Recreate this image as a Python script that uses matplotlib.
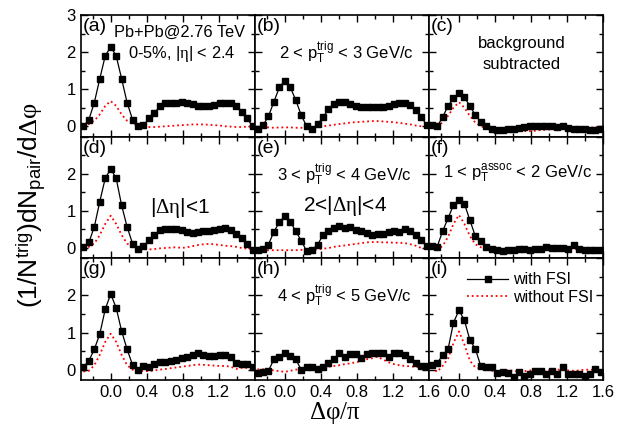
import matplotlib
matplotlib.use('Agg')
import matplotlib.pyplot as plt
import numpy as np

#Data: bin centres in units of pi
dphi = np.arange(-5, 27) * 2.0 / 33.0

#with FSI (black squares) / without FSI (red dotted), panels a..i
fsi_a = [0.0, 0.18, 0.64, 1.28, 1.9, 2.14, 1.9, 1.28, 0.64, 0.18, 0.0, 0.03, 0.21, 0.35, 0.55, 0.62,
         0.64, 0.64, 0.65, 0.62, 0.59, 0.56, 0.55, 0.55, 0.58, 0.62, 0.64, 0.62, 0.55, 0.39, 0.21, 0.0]
nofsi_a = [0.02, 0.06, 0.15, 0.32, 0.55, 0.68, 0.55, 0.32, 0.15, 0.07, 0.03, 0.0, -0.02, -0.02, -0.01, 0.0,
           0.01, 0.02, 0.03, 0.04, 0.05, 0.05, 0.05, 0.04, 0.03, 0.02, 0.0, -0.01, -0.02, -0.02, -0.01, -0.01]

fsi_b = [-0.06, 0.03, 0.27, 0.66, 1.05, 1.23, 1.05, 0.71, 0.30, 0.0, -0.06, 0.05, 0.25, 0.46, 0.6, 0.65,
         0.65, 0.6, 0.55, 0.53, 0.51, 0.51, 0.53, 0.53, 0.55, 0.59, 0.62, 0.62, 0.57, 0.45, 0.25, 0.03]
nofsi_b = [-0.03, -0.03, -0.03, -0.04, -0.03, -0.03, -0.03, -0.04, -0.04, -0.03, -0.03, -0.02, 0.0, 0.02, 0.04, 0.06,
           0.08, 0.1, 0.11, 0.12, 0.13, 0.14, 0.14, 0.13, 0.12, 0.11, 0.09, 0.07, 0.05, 0.02, 0.0, -0.02]

fsi_c = [0.03, 0.0, 0.24, 0.55, 0.75, 0.89, 0.78, 0.55, 0.3, 0.12, 0.0, -0.06, -0.09, -0.09, -0.07, -0.06,
         -0.05, -0.02, 0.0, 0.02, 0.02, 0.0, 0.0, -0.02, 0.0, -0.04, -0.06, -0.06, -0.06, -0.09, -0.09, -0.06]
nofsi_c = [-0.02, 0.02, 0.1, 0.28, 0.5, 0.65, 0.5, 0.28, 0.1, 0.0, -0.04, -0.05, -0.05, -0.06, -0.08, -0.1,
           -0.12, -0.13, -0.13, -0.12, -0.1, -0.09, -0.08, -0.06, -0.05, -0.05, -0.05, -0.06, -0.05, -0.04, -0.03, -0.03]

fsi_d = [0.03, 0.15, 0.57, 1.25, 1.88, 2.13, 1.88, 1.15, 0.57, 0.12, -0.02, 0.05, 0.21, 0.35, 0.48, 0.51,
         0.51, 0.5, 0.48, 0.44, 0.41, 0.42, 0.45, 0.46, 0.48, 0.5, 0.55, 0.48, 0.39, 0.28, 0.12, -0.05]
nofsi_d = [0.0, 0.03, 0.12, 0.35, 0.65, 0.87, 0.65, 0.35, 0.12, 0.03, -0.02, -0.03, -0.04, -0.03, -0.01, 0.0,
           0.01, 0.02, 0.0, 0.02, 0.05, 0.08, 0.1, 0.11, 0.1, 0.08, 0.06, 0.05, 0.03, 0.0, -0.02, -0.03]

fsi_e = [-0.06, -0.04, 0.09, 0.44, 0.69, 0.87, 0.71, 0.45, 0.2, -0.09, -0.06, 0.09, 0.35, 0.45, 0.55, 0.59,
         0.55, 0.57, 0.48, 0.45, 0.41, 0.35, 0.39, 0.39, 0.42, 0.45, 0.44, 0.5, 0.45, 0.36, 0.21, 0.05]
nofsi_e = [-0.06, -0.06, -0.06, -0.06, -0.06, -0.06, -0.06, -0.06, -0.05, -0.05, -0.05, -0.04, -0.02, 0.0, 0.03, 0.05,
           0.07, 0.09, 0.11, 0.13, 0.15, 0.16, 0.16, 0.15, 0.15, 0.14, 0.14, 0.13, 0.1, 0.06, 0.0, -0.03]

fsi_f = [0.05, 0.03, 0.45, 0.8, 1.16, 1.3, 1.19, 0.75, 0.32, 0.2, 0.03, -0.02, -0.06, -0.08, -0.06, -0.05,
         -0.02, -0.04, -0.05, -0.02, -0.03, 0.03, 0.01, 0.01, 0.01, -0.02, 0.07, -0.02, -0.06, -0.06, -0.05, -0.05]
nofsi_f = [-0.02, -0.04, 0.05, 0.3, 0.65, 0.89, 0.65, 0.32, 0.1, 0.02, -0.02, -0.01, 0.0, -0.02, -0.04, -0.06,
           -0.05, -0.03, -0.02, 0.0, -0.02, -0.03, -0.02, -0.02, -0.03, -0.02, -0.03, -0.02, -0.01, -0.03, -0.04, -0.04]

fsi_g = [0.07, 0.24, 0.55, 0.96, 1.63, 2.04, 1.67, 1.04, 0.55, 0.13, -0.02, 0.11, 0.07, 0.15, 0.21, 0.22,
         0.24, 0.25, 0.31, 0.35, 0.39, 0.44, 0.39, 0.37, 0.37, 0.39, 0.4, 0.35, 0.19, 0.16, 0.14, 0.08]
nofsi_g = [-0.05, -0.03, 0.12, 0.4, 0.75, 0.97, 0.75, 0.4, 0.12, 0.0, -0.03, -0.04, -0.04, -0.02, 0.0, 0.02,
           0.04, 0.06, 0.08, 0.1, 0.12, 0.14, 0.13, 0.12, 0.11, 0.1, 0.1, 0.08, 0.02, 0.05, 0.05, 0.03]

fsi_h = [-0.08, -0.06, -0.03, 0.28, 0.35, 0.44, 0.37, 0.28, 0.0, 0.06, 0.06, 0.01, 0.08, 0.19, 0.28, 0.44,
         0.35, 0.41, 0.43, 0.32, 0.41, 0.44, 0.46, 0.44, 0.35, 0.44, 0.46, 0.39, 0.28, 0.17, 0.1, 0.1]
nofsi_h = [0.01, 0.01, 0.0, -0.02, -0.04, -0.06, -0.03, 0.0, 0.02, 0.02, 0.03, 0.05, 0.06, 0.08, 0.1, 0.12,
           0.15, 0.17, 0.2, 0.23, 0.28, 0.31, 0.35, 0.27, 0.2, 0.15, 0.12, 0.1, 0.09, 0.07, 0.06, 0.04]

fsi_i = [0.12, 0.17, 0.39, 0.55, 1.27, 1.6, 1.33, 0.8, 0.56, 0.1, 0.08, 0.06, -0.09, -0.06, -0.09, -0.21,
         -0.06, -0.18, -0.12, -0.03, -0.03, -0.12, -0.03, -0.12, 0.06, -0.12, -0.12, -0.12, -0.16, -0.12, 0.01, -0.06]
nofsi_i = [0.06, -0.06, 0.1, 0.3, 0.72, 1.03, 0.68, 0.24, 0.06, 0.03, 0.0, -0.03, -0.05, -0.04, -0.01, -0.03,
           -0.06, -0.04, -0.02, -0.05, -0.06, -0.02, -0.02, 0.0, 0.0, -0.02, -0.03, -0.02, 0.0, 0.0, -0.01, -0.03]

fsi_all = [fsi_a, fsi_b, fsi_c, fsi_d, fsi_e, fsi_f, fsi_g, fsi_h, fsi_i]
nofsi_all = [nofsi_a, nofsi_b, nofsi_c, nofsi_d, nofsi_e, nofsi_f, nofsi_g, nofsi_h, nofsi_i]
panel_tags = ['(a)', '(b)', '(c)', '(d)', '(e)', '(f)', '(g)', '(h)', '(i)']
xtick_vals = [0.0, 0.4, 0.8, 1.2, 1.6]
xtick_text = ['0.0', '0.4', '0.8', '1.2', '1.6']

#############################################################################
#PLOT
#############################################################################
plt.rcParams['font.family'] = ['Liberation Sans', 'DejaVu Sans']
plt.rcParams['mathtext.fontset'] = 'custom'
plt.rcParams['mathtext.rm'] = 'Liberation Serif'
plt.rcParams['mathtext.it'] = 'Liberation Serif'
plt.rcParams['mathtext.sf'] = 'Liberation Sans'

fig, axes = plt.subplots(3, 3, figsize=(6.23, 4.28), dpi=100)
fig.subplots_adjust(left=0.1295, right=0.968, top=0.965, bottom=0.112, wspace=0, hspace=0)

for n, ax in enumerate(axes.flat):
    row, col = n // 3, n % 3
    ax.plot(dphi, nofsi_all[n], color='red', ls=':', lw=1.3)
    ax.plot(dphi, fsi_all[n], color='black', lw=0.9, marker='s', ms=4.3)
    ax.set_xlim(-1.0/3.0, 1.6)
    ax.set_ylim(-0.28, 3.0)
    ax.set_xticks(xtick_vals)
    ax.set_xticks(np.arange(-0.2, 1.61, 0.2), minor=True)
    ax.set_yticks([0, 1, 2, 3])
    ax.set_yticks([0.5, 1.5, 2.5], minor=True)
    ax.tick_params(which='both', direction='in', top=True, right=True, labelsize=12,
                   labelleft=(col == 0), labelbottom=(row == 2))
    ax.tick_params(which='major', length=5, width=1)
    ax.tick_params(which='minor', length=3, width=1)
    for sp in ax.spines.values():
        sp.set_linewidth(1.2)
    ax.text(0.012, 0.975, panel_tags[n], transform=ax.transAxes, fontsize=14, va='top', ha='left')
    if col == 0:
        ax.set_yticklabels(['0', '1', '2', '3'] if row == 0 else ['0', '1', '2', ''])
    if row == 2:
        ax.set_xticklabels(xtick_text)

ax_a, ax_b, ax_c = axes[0]
ax_d, ax_e, ax_f = axes[1]
ax_g, ax_h, ax_i = axes[2]

ax_a.text(0.19, 0.82, 'Pb+Pb@2.76 TeV', transform=ax_a.transAxes, fontsize=11.8, va='baseline')
ax_a.text(0.58, 0.644, r'0-5%, |$\eta$| < 2.4', transform=ax_a.transAxes, fontsize=11.8, va='baseline', ha='center')
ax_b.text(0.525, 0.636, r'2 < p$_\mathsf{T}^\mathsf{trig}$ < 3 GeV/c', transform=ax_b.transAxes, fontsize=12, va='baseline', ha='center')
ax_c.text(0.533, 0.726, 'background', transform=ax_c.transAxes, fontsize=12, va='baseline', ha='center')
ax_c.text(0.533, 0.554, 'subtracted', transform=ax_c.transAxes, fontsize=12, va='baseline', ha='center')
ax_d.text(0.40, 0.373, r'|$\Delta\eta$|<1', transform=ax_d.transAxes, fontsize=15, va='baseline', ha='left')
ax_e.text(0.516, 0.63, r'3 < p$_\mathsf{T}^\mathsf{trig}$ < 4 GeV/c', transform=ax_e.transAxes, fontsize=12, va='baseline', ha='center')
ax_e.text(0.52, 0.39, r'2<|$\Delta\eta$|<4', transform=ax_e.transAxes, fontsize=15, va='baseline', ha='center')
ax_f.text(0.51, 0.658, r'1 < p$_\mathsf{T}^\mathsf{assoc}$ < 2 GeV/c', transform=ax_f.transAxes, fontsize=12, va='baseline', ha='center')
ax_h.text(0.516, 0.64, r'4 < p$_\mathsf{T}^\mathsf{trig}$ < 5 GeV/c', transform=ax_h.transAxes, fontsize=12, va='baseline', ha='center')

handles = ax_i.get_lines()
ax_i.legend([handles[1], handles[0]], ['with FSI', 'without FSI'], loc='upper right',
            bbox_to_anchor=(1.0, 0.965), frameon=False, fontsize=11.5, handlelength=2.6,
            handletextpad=0.3, labelspacing=0.15, borderaxespad=0.2)

fig.text(0.538, 0.004, r'$\Delta\varphi/\pi$', fontsize=18, ha='center', va='bottom')
fig.text(0.05, 0.52, r'(1/N$^\mathsf{trig}$)dN$_\mathsf{pair}$/d$\Delta\varphi$', fontsize=19,
         rotation=90, ha='center', va='center')

plt.savefig('out.png', dpi=100)
plt.close()
